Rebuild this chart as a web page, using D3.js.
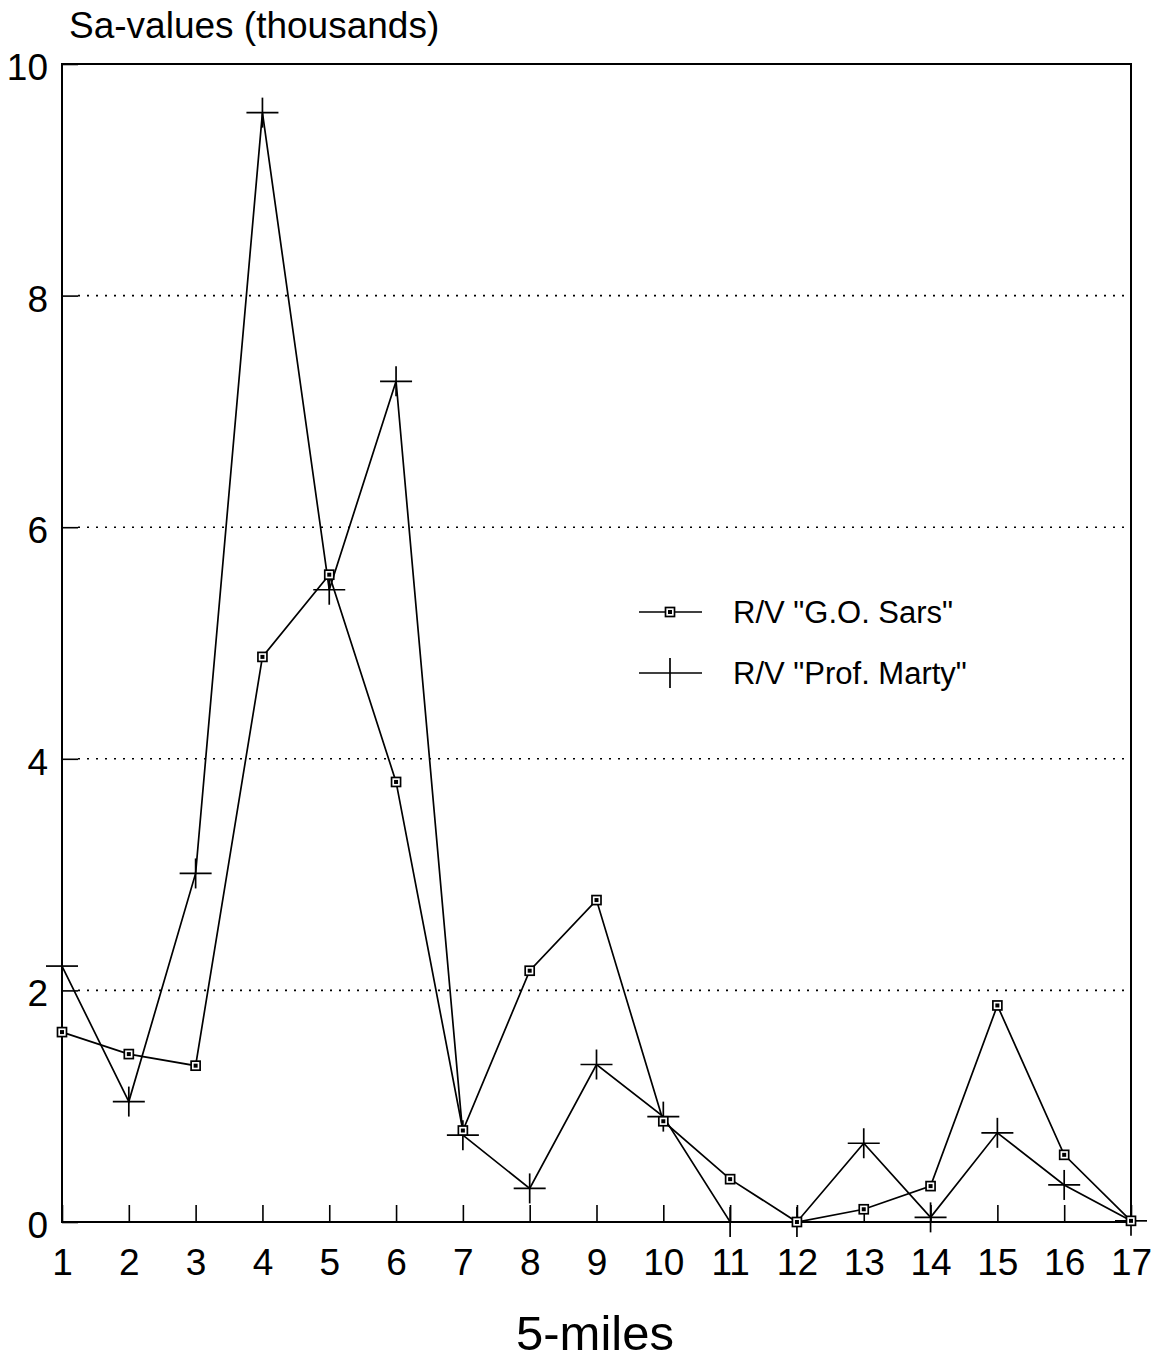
<!DOCTYPE html>
<html>
<head>
<meta charset="utf-8">
<script src="https://cdn.jsdelivr.net/npm/d3@7"></script>
<style>
  html, body { margin: 0; padding: 0; background: #fff; }
  svg { display: block; font-family: "Liberation Sans", Arial, Helvetica, sans-serif; }
</style>
</head>
<body>
<svg id="chart" width="1162" height="1361"></svg>
<script>
// ---- data ----
const miles = [1, 2, 3, 4, 5, 6, 7, 8, 9, 10, 11, 12, 13, 14, 15, 16, 17];
const sarsValues = [1.64, 1.45, 1.35, 4.88, 5.59, 3.80, 0.79, 2.17, 2.78, 0.87, 0.37, 0.00, 0.11, 0.31, 1.87, 0.58, 0.01];
const martyValues = [2.21, 1.04, 3.01, 9.58, 5.46, 7.26, 0.75, 0.29, 1.36, 0.91, 0.00, 0.00, 0.68, 0.04, 0.77, 0.32, 0.01];
const yTicks = [0, 2, 4, 6, 8, 10];
const gridTicks = [2, 4, 6, 8];
const seriesNames = ['R/V "G.O. Sars"', 'R/V "Prof. Marty"'];
const yTitle = "Sa-values (thousands)";
const xTitle = "5-miles";

// ---- layout ----
const plotLeft = 62, plotRight = 1131, plotTop = 64, plotBottom = 1222;
const svg = d3.select("#chart");
const x = d3.scaleLinear().domain([1, 17]).range([plotLeft, plotRight]);
const y = d3.scaleLinear().domain([0, 10]).range([plotBottom, plotTop]);

// grid lines (dotted)
svg.append("g").selectAll("line").data(gridTicks).join("line")
  .attr("x1", plotLeft + 16).attr("x2", plotRight)
  .attr("y1", d => y(d)).attr("y2", d => y(d))
  .attr("stroke", "#000").attr("stroke-width", 1.6)
  .attr("stroke-dasharray", "2,7");

// frame
svg.append("rect")
  .attr("x", plotLeft).attr("y", plotTop)
  .attr("width", plotRight - plotLeft).attr("height", plotBottom - plotTop)
  .attr("fill", "none").attr("stroke", "#000").attr("stroke-width", 2);

// y axis (ticks inward)
const yAxis = d3.axisLeft(y).tickValues(yTicks).tickSize(-16).tickPadding(14)
  .tickFormat(d3.format("d"));
const gy = svg.append("g").attr("transform", `translate(${plotLeft},0)`).call(yAxis);
gy.select(".domain").remove();
gy.selectAll(".tick line").attr("stroke-width", 1.6);
gy.selectAll(".tick text")
  .attr("font-size", 37).attr("fill", "#000")
  .attr("font-family", "Liberation Sans, Arial, sans-serif")
  .attr("dy", "0.42em");

// x axis (ticks inward, upward)
const xAxis = d3.axisBottom(x).tickValues(miles).tickSize(-17).tickPadding(27)
  .tickFormat(d3.format("d"));
const gx = svg.append("g").attr("transform", `translate(0,${plotBottom})`).call(xAxis);
gx.select(".domain").remove();
gx.selectAll(".tick line").attr("stroke-width", 1.6);
gx.selectAll(".tick text")
  .attr("font-size", 37).attr("fill", "#000")
  .attr("font-family", "Liberation Sans, Arial, sans-serif")
  .attr("dy", "0.71em");

// lines
const lineGen = d3.line().x((d, i) => x(miles[i])).y(d => y(d));
svg.append("path").datum(sarsValues).attr("d", lineGen)
  .attr("fill", "none").attr("stroke", "#000").attr("stroke-width", 1.7);
svg.append("path").datum(martyValues).attr("d", lineGen)
  .attr("fill", "none").attr("stroke", "#000").attr("stroke-width", 1.7);

// markers
function squareMarker(g, cx, cy) {
  g.append("rect").attr("x", cx - 4.5).attr("y", cy - 4.5).attr("width", 9).attr("height", 9)
    .attr("fill", "#fff").attr("stroke", "#000").attr("stroke-width", 1.7);
  g.append("rect").attr("x", cx - 2).attr("y", cy - 2).attr("width", 4).attr("height", 4)
    .attr("fill", "#000");
}
function crossMarker(g, cx, cy, showH = true) {
  if (showH) g.append("line").attr("x1", cx - 16).attr("x2", cx + 16).attr("y1", cy).attr("y2", cy)
    .attr("stroke", "#000").attr("stroke-width", 1.7);
  g.append("line").attr("x1", cx).attr("x2", cx).attr("y1", cy - 15).attr("y2", cy + 15)
    .attr("stroke", "#000").attr("stroke-width", 1.7);
}
const gm = svg.append("g");
martyValues.forEach((v, i) => crossMarker(gm, x(miles[i]), y(v)));
sarsValues.forEach((v, i) => squareMarker(gm, x(miles[i]), y(v)));

// legend
const lg = svg.append("g");
const legRows = [612, 673];
lg.selectAll("line.leg").data(legRows).join("line").attr("class", "leg")
  .attr("x1", 639).attr("x2", 702).attr("y1", d => d).attr("y2", d => d)
  .attr("stroke", "#000").attr("stroke-width", 1.5);
squareMarker(lg, 670, legRows[0]);
crossMarker(lg, 670, legRows[1], false);
lg.selectAll("text").data(seriesNames).join("text")
  .attr("x", 733).attr("y", (d, i) => legRows[i] + 11)
  .attr("font-size", 31).attr("fill", "#000")
  .text(d => d);

// titles
svg.append("text").attr("x", 69).attr("y", 38)
  .attr("font-size", 37).attr("fill", "#000").text(yTitle);
svg.append("text").attr("x", 595).attr("y", 1350).attr("text-anchor", "middle")
  .attr("font-size", 49).attr("fill", "#000").text(xTitle);
</script>
</body>
</html>
